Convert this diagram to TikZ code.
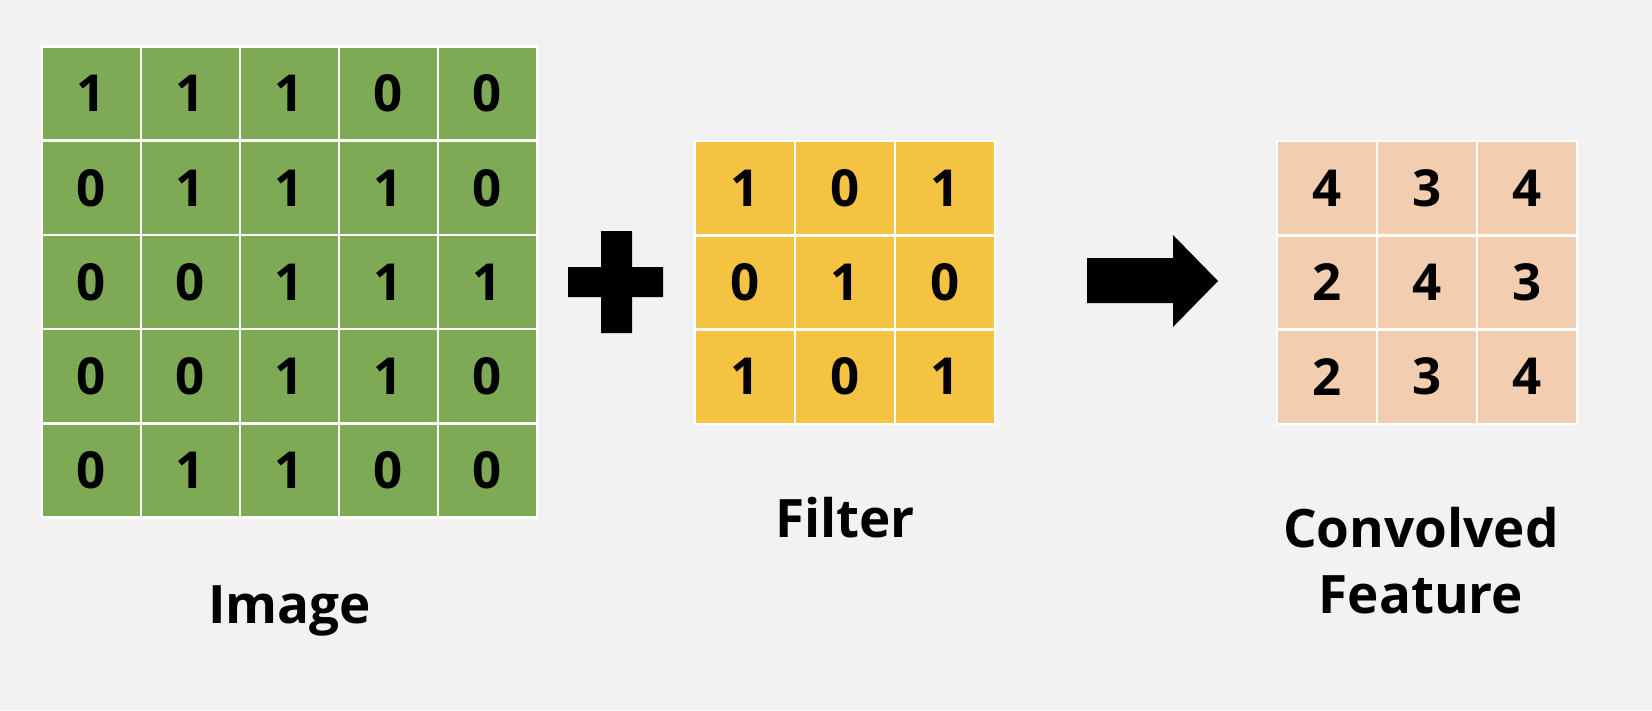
\documentclass[tikz,border=0pt]{standalone}
\usepackage{fontspec}
\setmainfont{Open Sans}
\definecolor{bgc}{HTML}{F2F2F2}
\definecolor{imgc}{HTML}{7EAA55}
\definecolor{filc}{HTML}{F5C342}
\definecolor{outc}{HTML}{F3CDB0}
\tikzset{
  cellbase/.style={draw=white, line width=2.5pt, inner sep=0pt, text=black,
    font=\fontsize{51}{51}\selectfont\bfseries},
  imgcell/.style={cellbase, fill=imgc, minimum width=99pt, minimum height=94.2pt},
  filcell/.style={cellbase, fill=filc, minimum width=100pt, minimum height=94.3pt},
  outcell/.style={cellbase, fill=outc, minimum width=100pt, minimum height=94.3pt},
  lbl/.style={anchor=base, inner sep=0pt, font=\fontsize{53}{53}\selectfont\bfseries}
}
\begin{document}
\begin{tikzpicture}[x=1pt,y=-1pt]
\fill[bgc] (0,0) rectangle (1652,710);
\useasboundingbox (0,0) rectangle (1652,710);
% image grid
\foreach \v [count=\i from 0] in {1,1,1,0,0, 0,1,1,1,0, 0,0,1,1,1, 0,0,1,1,0, 0,1,1,0,0}{
  \pgfmathtruncatemacro\c{mod(\i,5)}
  \pgfmathtruncatemacro\r{div(\i,5)}
  \node[imgcell] (img-\r-\c) at ({42+99*(\c+0.5)},{46.5+94.2*(\r+0.5)}) {\v};
}
% filter grid
\foreach \v [count=\i from 0] in {1,0,1, 0,1,0, 1,0,1}{
  \pgfmathtruncatemacro\c{mod(\i,3)}
  \pgfmathtruncatemacro\r{div(\i,3)}
  \node[filcell] (fil-\r-\c) at ({695+100*(\c+0.5)},{141+94.3*(\r+0.5)}) {\v};
}
% output grid
\foreach \v [count=\i from 0] in {4,3,4, 2,4,3, 2,3,4}{
  \pgfmathtruncatemacro\c{mod(\i,3)}
  \pgfmathtruncatemacro\r{div(\i,3)}
  \node[outcell] (out-\r-\c) at ({1277+100*(\c+0.5)},{141+94.3*(\r+0.5)}) {\v};
}
% plus sign
\fill[black] (568,267) -- (601,267) -- (601,231) -- (632,231) -- (632,267) -- (663,267)
  -- (663,297) -- (632,297) -- (632,333) -- (601,333) -- (601,297) -- (568,297) -- cycle;
% arrow
\fill[black] (1087,258) -- (1173,258) -- (1173,235) -- (1218,281) -- (1173,327)
  -- (1173,303) -- (1087,303) -- cycle;
% labels
\node[lbl] (limg) at (289.5,623) {Image};
\node[lbl] (lfil) at (845,537) {Filter};
\node[lbl] (lconv) at (1421,547) {Convolved};
\node[lbl] (lfeat) at (1421,613) {Feature};
\end{tikzpicture}
\end{document}
